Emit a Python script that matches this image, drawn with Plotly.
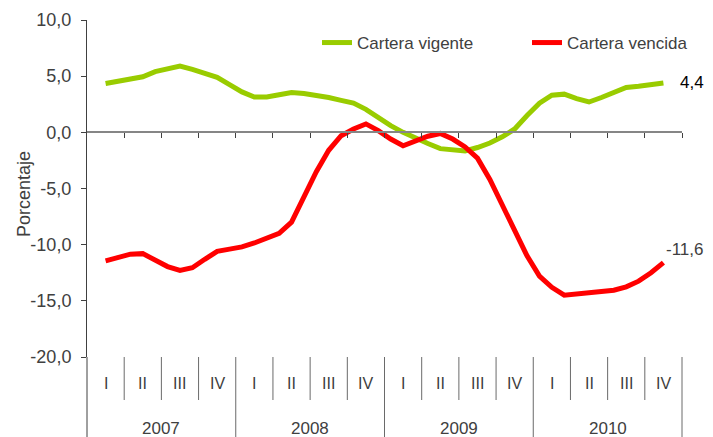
import plotly.graph_objects as go

# ---- data (monthly, Feb 2007 - Nov 2010) ----
vigente = [4.35, 4.55, 4.75, 4.95, 5.4, 5.7, 5.9, 5.6, 5.3, 4.9, 4.25,
           3.6, 3.15, 3.15, 3.35, 3.55, 3.45, 3.3, 3.1, 2.85, 2.6, 2.05, 1.3,
           0.6, 0.0, -0.55, -1.0, -1.45, -1.6, -1.65, -1.35, -0.95, -0.4, 0.3, 1.5,
           2.6, 3.3, 3.4, 3.0, 2.7, 3.1, 3.6, 4.0, 4.1, 4.2, 4.4]
vencida = [-11.45, -11.1, -10.85, -10.8, -11.35, -11.95, -12.3, -12.05, -11.3, -10.6, -10.4,
           -10.2, -9.85, -9.45, -9.0, -8.0, -5.8, -3.5, -1.6, -0.3, 0.3, 0.75, 0.15,
           -0.6, -1.2, -0.8, -0.35, -0.1, -0.6, -1.3, -2.3, -4.2, -6.5, -8.8, -11.0,
           -12.8, -13.8, -14.5, -14.4, -14.2, -14.15, -14.05, -13.75, -13.25, -12.5, -11.6]
first_month = 1  # Feb 2007 (0 = Jan 2007)
years = ["2007", "2008", "2009", "2010"]
quarters = ["I", "II", "III", "IV"]
ytick_vals = [10, 5, 0, -5, -10, -15, -20]
ytick_text = ["10,0", "5,0", "0,0", "-5,0", "-10,0", "-15,0", "-20,0"]
label_last_vig = "4,4"
label_last_ven = "-11,6"

x = [first_month + i + 0.5 for i in range(len(vigente))]
n_months = 12 * len(years)

FONT = "Liberation Sans, Arial, sans-serif"
TXT = "#404040"
# page has an 8px body margin: figure is placed at (8, 8)
W, H = 705, 429
ml, mr, mt, mb = 79, 31, 12, 80
pw = W - ml - mr
ph = H - mt - mb

fig = go.Figure()
fig.add_trace(go.Scatter(x=x, y=vigente, mode="lines", name="Cartera vigente",
                         line=dict(color="#99CC00", width=5), legend="legend"))
fig.add_trace(go.Scatter(x=x, y=vencida, mode="lines", name="Cartera vencida",
                         line=dict(color="#FF0000", width=5), legend="legend2"))

shapes = []
# y-axis line extended down through the category labels
shapes.append(dict(type="line", xref="paper", yref="paper", x0=0, x1=0, y0=0, y1=-mb / ph,
                   line=dict(color=TXT, width=1)))
for q in range(1, 4 * len(years) + 1):
    xm = q * 3
    is_year = (q % 4 == 0)
    shapes.append(dict(type="line", xref="paper", yref="paper", x0=xm / n_months, x1=xm / n_months,
                       y0=0, y1=(-mb / ph) if is_year else (-43 / ph),
                       line=dict(color="#6a6a6a", width=1)))

annotations = []
for yi, yr in enumerate(years):
    for qi, ql in enumerate(quarters):
        annotations.append(dict(x=yi * 12 + qi * 3 + 1.5, y=-26 / ph, xref="x", yref="paper",
                                xanchor="center", yanchor="middle",
                                text=ql, showarrow=False, font=dict(size=16, color=TXT, family=FONT)))
    annotations.append(dict(x=yi * 12 + 6, y=-71 / ph, xref="x", yref="paper",
                            xanchor="center", yanchor="middle",
                            text=yr, showarrow=False, font=dict(size=17, color=TXT, family=FONT)))

annotations.append(dict(x=(24 - 87) / pw, y=(357 - 194) / ph, xref="paper", yref="paper",
                        xanchor="center", yanchor="middle",
                        text="Porcentaje", textangle=-90, showarrow=False,
                        font=dict(size=18, color=TXT, family=FONT)))
annotations.append(dict(x=x[-1], y=vigente[-1], xref="x", yref="y", text=label_last_vig,
                        xanchor="left", yanchor="middle", xshift=15, showarrow=False,
                        font=dict(size=17, color="#000000", family=FONT)))
annotations.append(dict(x=x[-1], y=vencida[-1], xref="x", yref="y", text=label_last_ven,
                        xanchor="left", yanchor="middle", xshift=1, yshift=13, showarrow=False,
                        font=dict(size=17, color=TXT, family=FONT)))

leg_common = dict(orientation="h", xanchor="left", yanchor="middle", y=(357 - 43) / ph,
                  bgcolor="rgba(0,0,0,0)", font=dict(size=17, color=TXT, family=FONT))

fig.update_layout(
    width=W, height=H,
    margin=dict(l=ml, r=mr, t=mt, b=mb, autoexpand=False),
    paper_bgcolor="white", plot_bgcolor="white",
    font=dict(family=FONT, color=TXT),
    showlegend=True,
    legend=dict(x=(317 - 87) / pw, **leg_common),
    legend2=dict(x=(527 - 87) / pw, **leg_common),
    xaxis=dict(range=[0, n_months], anchor="free", position=20 / 30, automargin=False,
               showline=True, linecolor="#868686", linewidth=1.5,
               ticks="outside", tickvals=[3 * q for q in range(1, 17)], ticklen=5,
               tickcolor=TXT, showticklabels=False, showgrid=False, zeroline=False),
    yaxis=dict(range=[-20, 10], showline=True, linecolor=TXT, linewidth=1, automargin=False,
               ticks="outside", ticklen=5, tickcolor=TXT,
               tickvals=ytick_vals, ticktext=ytick_text, ticklabelstandoff=6,
               tickfont=dict(size=18, color=TXT, family=FONT),
               showgrid=False, zeroline=False),
    shapes=shapes,
    annotations=annotations,
)

fig.write_html("out.html")
